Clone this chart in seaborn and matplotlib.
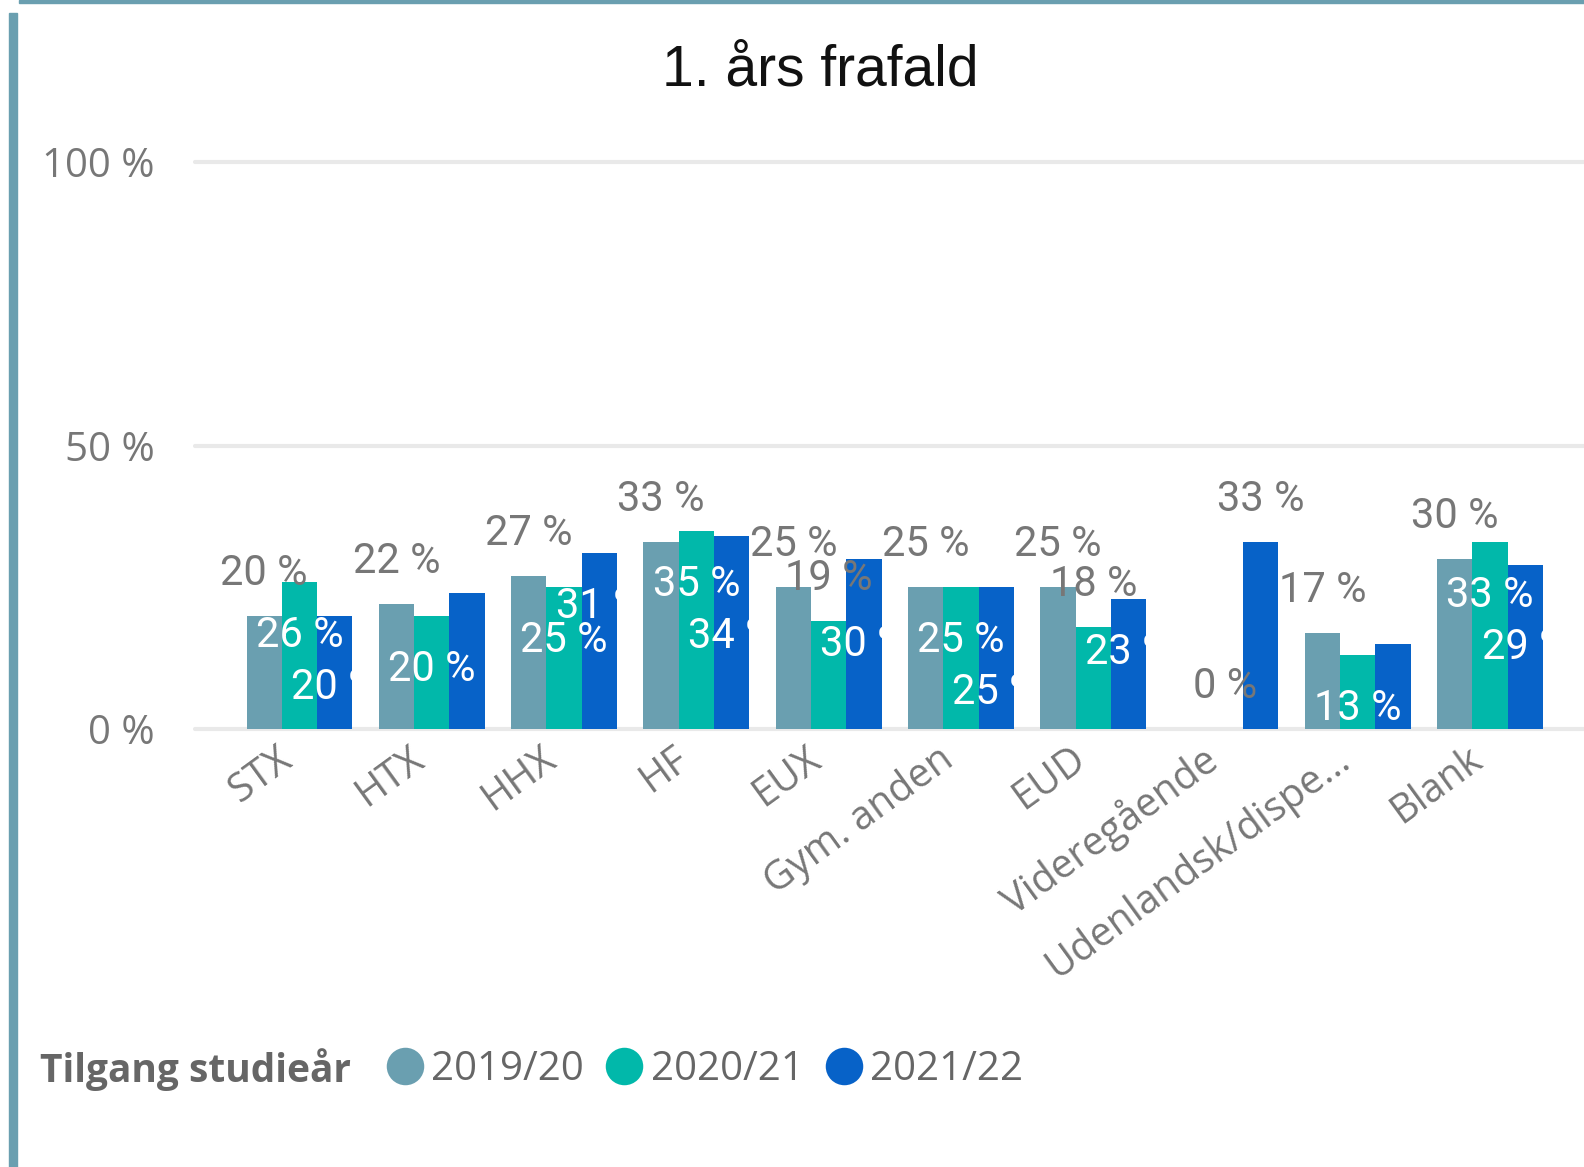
import numpy as np
import pandas as pd
import matplotlib
matplotlib.use("Agg")
import matplotlib.pyplot as plt
import matplotlib.transforms as mtransforms
import seaborn as sns
from matplotlib.patches import Rectangle
from matplotlib.lines import Line2D

# ---------------- data ----------------
categories = ["STX", "HTX", "HHX", "HF", "EUX", "Gym. anden", "EUD",
              "Videregående", "Udenlandsk/dispe...", "Blank"]
years = ["2019/20", "2020/21", "2021/22"]
v_2019 = [20, 22, 27, 33, 25, 25, 25, np.nan, 17, 30]
v_2020 = [26, 20, 25, 35, 19, 25, 18, 0, 13, 33]
v_2021 = [20, 24, 31, 34, 30, 25, 23, 33, 15, 29]
values = {"2019/20": v_2019, "2020/21": v_2020, "2021/22": v_2021}

# which data labels Power BI showed (out = above bar, in = inside bar, "" = hidden)
label_modes = {
    "2019/20": ["out"] * 10,
    "2020/21": ["in", "in", "in", "in", "out", "in", "out", "out", "in", "in"],
    "2021/22": ["in", "", "in", "in", "in", "in", "in", "out", "", "in"],
}
yticks = [0, 50, 100]
ytick_labels = ["0 %", "50 %", "100 %"]

palette = {"2019/20": "#6A9FB0", "2020/21": "#01B8AA", "2021/22": "#0762C8"}

# ---------------- figure ----------------
sns.set_theme(style="white")
plt.rcParams["font.family"] = ["Open Sans", "DejaVu Sans"]

W, H = 1584, 1167
fig = plt.figure(figsize=(W / 100, H / 100), dpi=100)
ax_left, ax_bottom, ax_top = 195, 729, 162
ax = fig.add_axes([ax_left / W, 1 - ax_bottom / H, 1 - ax_left / W, (ax_bottom - ax_top) / H])

rows = []
for yr in years:
    for c, v in zip(categories, values[yr]):
        rows.append({"Kategori": c, "År": yr, "Frafald": v})
df = pd.DataFrame(rows)

sns.barplot(data=df, x="Kategori", y="Frafald", hue="År", order=categories,
            hue_order=years, palette=palette, width=0.8, saturation=1,
            errorbar=None, legend=False, linewidth=0, edgecolor="none", ax=ax)

ax.set_xlim(-0.79, 9.71)
ax.set_ylim(0, 100)
for s in ax.spines.values():
    s.set_visible(False)
ax.set_xlabel("")
ax.set_ylabel("")
ax.set_yticks(yticks)
ax.set_yticklabels(ytick_labels, fontsize=29, color="#777777")
ax.tick_params(axis="y", length=0, pad=29)
ax.yaxis.grid(True, color="#E9E9E9", linewidth=3)
ax.xaxis.grid(False)
ax.set_axisbelow(True)
for gl in ax.get_ygridlines():
    gl.set_clip_on(False)

ax.set_xticks(range(len(categories)))
ax.set_xticklabels(categories, rotation=36, ha="right", va="top",
                   rotation_mode="anchor", fontsize=28.5, color="#777777")
ax.tick_params(axis="x", length=0, pad=10)
shift = mtransforms.ScaledTranslation(-24 / 100, 4 / 100, fig.dpi_scale_trans)
for lab in ax.get_xticklabels():
    lab.set_transform(lab.get_transform() + shift)

# ---------------- data labels ----------------
bw = 0.8 / 3
OUT, IN, LH = 31, 65, 29
PUSH = {"in": 52, "out": 66}
trans = ax.transData
for i in range(len(categories)):
    prev = None
    for h, yr in enumerate(years):
        v = values[yr][i]
        mode = label_modes[yr][i]
        if np.isnan(v) or not mode:
            continue
        x = i + (h - 1) * bw
        ytop = trans.transform((x, v))[1]
        base = ytop + OUT if mode == "out" else ytop - IN
        if mode == "in" and prev is not None:
            pbase, pmode = prev
            # push the label below the neighbouring label when they collide
            if base < pbase + LH + 2 and base + LH > pbase - 10:
                base = pbase - PUSH[pmode]
        prev = (base, mode)
        color = "#777777" if mode == "out" else "white"
        t = ax.annotate(f"{v:.0f} %", xy=(x, v), xytext=(0, base - ytop),
                        textcoords="offset pixels", ha="center", va="baseline",
                        fontsize=30, color=color, family=["Roboto", "DejaVu Sans"],
                        annotation_clip=False)
        if mode == "in":
            clip = Rectangle((-2, -50), i + 0.4 + 2, 200, transform=ax.transData)
            t.set_clip_on(True)
            t.set_clip_path(clip)

# ---------------- title ----------------
fig.text(820 / W, 1 - 70 / H, "1. års frafald", ha="center", va="center",
         fontsize=41, color="#111111", family=["Liberation Sans", "DejaVu Sans"])

# ---------------- legend ----------------
ly = 1 - 1070 / H
fig.text(40 / W, ly, "Tilgang studieår", ha="left", va="center",
         fontsize=28, fontweight="bold", color="#666666")
handles = [Line2D([], [], linestyle="none", marker="o", markersize=27,
                  markerfacecolor=palette[yr], markeredgewidth=0) for yr in years]
leg = fig.legend(handles, years, loc="center left", bbox_to_anchor=(385 / W, ly),
                 ncol=3, frameon=False, fontsize=29, handlelength=1.0,
                 handletextpad=0.15, columnspacing=0.5, borderpad=0,
                 borderaxespad=0)
for txt in leg.get_texts():
    txt.set_color("#666666")

# ---------------- frame decorations ----------------
fig.patches.append(Rectangle((9 / W, 0), 8 / W, 1 - 13 / H, transform=fig.transFigure,
                             color="#6A9FB0", zorder=5))
fig.patches.append(Rectangle((19 / W, 1 - 3 / H), 1 - 19 / W, 3 / H,
                             transform=fig.transFigure, color="#6A9FB0", zorder=5))

fig.savefig("out.png", dpi=100)
